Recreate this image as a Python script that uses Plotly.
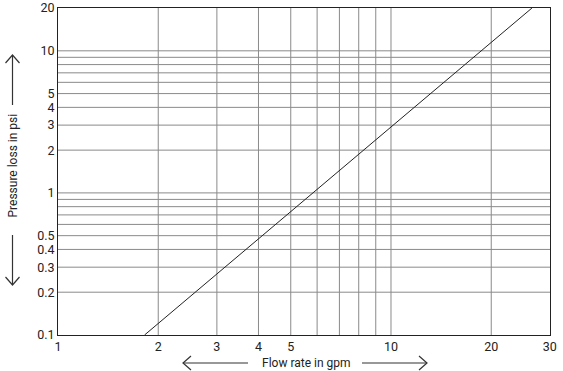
import plotly.graph_objects as go

# Data
flow_gpm = [1.82, 26.5]
pressure_psi = [0.1, 20]

x_ticks = [1, 2, 3, 4, 5, 10, 20, 30]
x_tick_labels = ["1", "2", "3", "4", "5", "10", "20", "30"]
y_ticks = [0.1, 0.2, 0.3, 0.4, 0.5, 1, 2, 3, 4, 5, 10, 20]
y_tick_labels = ["0.1", "0.2", "0.3", "0.4", "0.5", "1", "2", "3", "4", "5", "10", "20"]
x_grid = [2, 3, 4, 5, 6, 7, 8, 9, 10, 20]
y_grid = [0.2, 0.3, 0.4, 0.5, 0.6, 0.7, 0.8, 0.9, 1, 2, 3, 4, 5, 6, 7, 8, 9, 10]

W, H = 563, 371
L, R, T, B = 58, 13, 8, 36
pw, ph = W - L - R, H - T - B

def px(x):
    return (x - L) / pw

def py(y):
    return (H - B - y) / ph

fig = go.Figure()
fig.add_trace(go.Scatter(x=flow_gpm, y=pressure_psi, mode="lines",
                         line=dict(color="#222", width=1), showlegend=False,
                         hoverinfo="skip"))

shapes = []
for g in x_grid:
    shapes.append(dict(type="line", xref="x", yref="paper", x0=g, x1=g, y0=0, y1=1,
                       line=dict(color="#8a8a8a", width=1), layer="below"))
for g in y_grid:
    shapes.append(dict(type="line", xref="paper", yref="y", x0=0, x1=1, y0=g, y1=g,
                       line=dict(color="#8a8a8a", width=1), layer="below"))

arrow_style = dict(color="#333", width=1.2)
# bottom left arrow
shapes.append(dict(type="line", xref="paper", yref="paper", x0=px(183), x1=px(248),
                   y0=py(363), y1=py(363), line=arrow_style))
shapes.append(dict(type="path", xref="paper", yref="paper",
                   path=f"M {px(191)} {py(356)} L {px(183)} {py(363)} L {px(191)} {py(370)}",
                   line=arrow_style))
# bottom right arrow
shapes.append(dict(type="line", xref="paper", yref="paper", x0=px(362), x1=px(427),
                   y0=py(363), y1=py(363), line=arrow_style))
shapes.append(dict(type="path", xref="paper", yref="paper",
                   path=f"M {px(419)} {py(356)} L {px(427)} {py(363)} L {px(419)} {py(370)}",
                   line=arrow_style))
# left up arrow
shapes.append(dict(type="line", xref="paper", yref="paper", x0=px(12.5), x1=px(12.5),
                   y0=py(55), y1=py(105), line=arrow_style))
shapes.append(dict(type="path", xref="paper", yref="paper",
                   path=f"M {px(5.5)} {py(63)} L {px(12.5)} {py(55)} L {px(19.5)} {py(63)}",
                   line=arrow_style))
# left down arrow
shapes.append(dict(type="line", xref="paper", yref="paper", x0=px(12.5), x1=px(12.5),
                   y0=py(235), y1=py(285), line=arrow_style))
shapes.append(dict(type="path", xref="paper", yref="paper",
                   path=f"M {px(5.5)} {py(277)} L {px(12.5)} {py(285)} L {px(19.5)} {py(277)}",
                   line=arrow_style))

annotations = [
    dict(text="Flow rate in gpm", xref="paper", yref="paper", x=px(306), y=py(363),
         showarrow=False, font=dict(size=12, color="#222", family="Roboto"),
         xanchor="center", yanchor="middle"),
    dict(text="Pressure loss in psi", xref="paper", yref="paper", x=px(12.5), y=py(166),
         showarrow=False, textangle=-90, font=dict(size=12, color="#222", family="Roboto"),
         xanchor="center", yanchor="middle"),
]

fig.update_layout(
    width=W, height=H,
    margin=dict(l=L, r=R, t=T, b=B, autoexpand=False),
    paper_bgcolor="white", plot_bgcolor="white",
    shapes=shapes, annotations=annotations,
    font=dict(family="Roboto", size=12.5, color="#222"),
    xaxis=dict(type="log", range=[0, 1.4775], tickvals=x_ticks, ticktext=x_tick_labels,
               showgrid=False, zeroline=False, showline=True, linecolor="#222", linewidth=1,
               mirror=True, ticks="", tickfont=dict(size=12.5), ticklabeloverflow="allow",
               automargin=False),
    yaxis=dict(type="log", range=[-1.0002, 1.3014], tickvals=y_ticks, ticktext=y_tick_labels,
               showgrid=False, zeroline=False, showline=True, linecolor="#222", linewidth=1,
               mirror=True, ticks="", tickfont=dict(size=12.5), ticklabeloverflow="allow",
               automargin=False),
)

fig.write_html("out.html")
